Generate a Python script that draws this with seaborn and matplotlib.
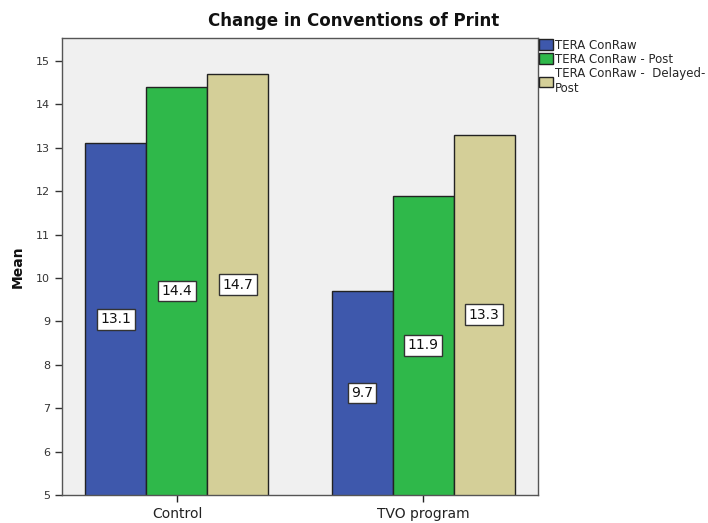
import matplotlib
matplotlib.use("Agg")
import matplotlib.pyplot as plt
import seaborn as sns
import pandas as pd

groups = ["Control", "TVO program"]
series = ["TERA ConRaw", "TERA ConRaw - Post", "TERA ConRaw -  Delayed-\nPost"]
means = {
    "TERA ConRaw": [13.1, 9.7],
    "TERA ConRaw - Post": [14.4, 11.9],
    "TERA ConRaw -  Delayed-\nPost": [14.7, 13.3],
}
colors = ["#3e58ac", "#2fb84a", "#d4cf98"]
yticks = [5, 6, 7, 8, 9, 10, 11, 12, 13, 14, 15]

rows = []
for s in series:
    for g, v in zip(groups, means[s]):
        rows.append({"Group": g, "Measure": s, "Mean": v})
df = pd.DataFrame(rows)

sns.set_style("white")
plt.rcParams["font.family"] = ["DejaVu Sans"]

fig = plt.figure(figsize=(7.08, 5.23), dpi=100)
ax = fig.add_axes([62 / 708, 28 / 523, (538 - 62) / 708, (495 - 38) / 523])
ax.set_facecolor("#f0f0f0")

sns.barplot(data=df, x="Group", y="Mean", hue="Measure", order=groups,
            hue_order=series, palette=colors, width=0.744, gap=0,
            edgecolor="#222222", linewidth=1.0, errorbar=None, ax=ax,
            saturation=1)

ymin = 5
ax.set_ylim(ymin, 15.53)
ax.set_xlim(-0.467, 1.467)
ax.set_yticks(yticks)
ax.set_yticklabels([str(t) for t in yticks], fontsize=8, color="#333333")
ax.tick_params(axis="x", labelsize=10, colors="#222222", length=5, width=1,
               direction="out", bottom=True)
ax.tick_params(axis="y", length=5, width=1, direction="out", left=True,
               colors="#333333")
ax.set_xlabel("")
ax.set_ylabel("Mean", fontsize=10, fontweight="bold", color="#111111",
              labelpad=8)

for sp in ax.spines.values():
    sp.set_color("#555555")
    sp.set_linewidth(1.0)

# value labels at the vertical middle of each bar's visible extent
for container in ax.containers:
    for bar in container:
        h = bar.get_height()
        xc = bar.get_x() + bar.get_width() / 2
        ax.text(xc, (ymin + h) / 2, f"{h:.1f}", ha="center", va="center",
                fontsize=10, color="#111111",
                bbox=dict(boxstyle="square,pad=0.25", facecolor="white",
                          edgecolor="#333333", linewidth=1))

fig.suptitle("Change in Conventions of Print", x=0.5, y=0.978,
             fontsize=12, fontweight="bold", color="#111111")

handles, labels = ax.get_legend_handles_labels()
ax.legend(handles, labels, loc="upper left", bbox_to_anchor=(1.0, 1.0),
          frameon=False, fontsize=8.5, borderaxespad=0, borderpad=0.05,
          handlelength=1.2, handleheight=1.0, handletextpad=0.2,
          labelspacing=0.1)

fig.savefig("out.png", dpi=100, facecolor="white")
